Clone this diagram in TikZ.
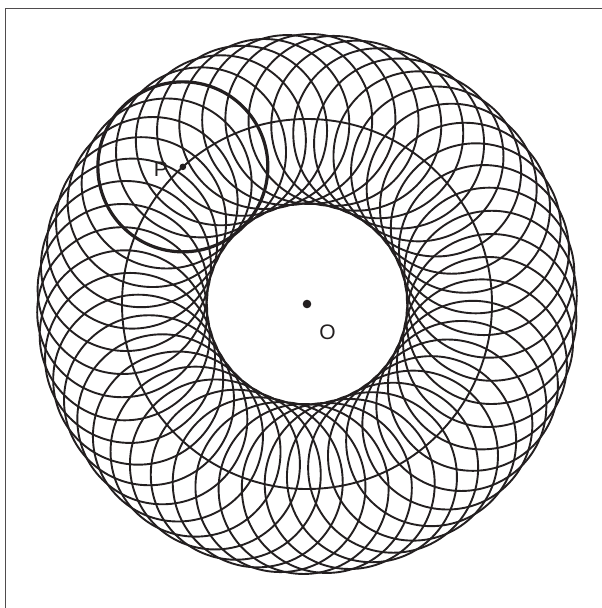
\documentclass[tikz,border=0pt]{standalone}
\usepackage{fontspec}
\setmainfont{Liberation Sans}
\definecolor{ink}{HTML}{231F20}
\begin{document}
\begin{tikzpicture}[x=1pt,y=-1pt,
  ring/.style={draw=ink, line width=1.9pt},
  boldring/.style={draw=ink, line width=3.2pt},
  frameline/.style={draw=ink!80, line width=1pt},
  lab/.style={text=ink, inner sep=0pt, font=\fontsize{21}{21}\selectfont}]
\useasboundingbox (0,0) rectangle (602,608);
\draw[frameline] (5.5,608) -- (5.5,8.5) -- (602,8.5);
\coordinate (O) at (307,304);
\foreach \k in {0,...,49} {
  \draw[ring, shift={(O)}] (-132.15+\k*7.2:185) circle[radius=85];
}
\draw[ring] (O) circle[radius=185];
\coordinate (P) at ([shift={(-132.15:185)}]O);
\draw[boldring] (P) circle[radius=85];
\fill[ink] (O) circle[radius=4.3];
\fill[ink] (P) circle[radius=3.3];
\node[lab] (Plab) at (161,169.5) {P};
\node[lab] (Olab) at (327.5,332) {O};
\end{tikzpicture}
\end{document}
